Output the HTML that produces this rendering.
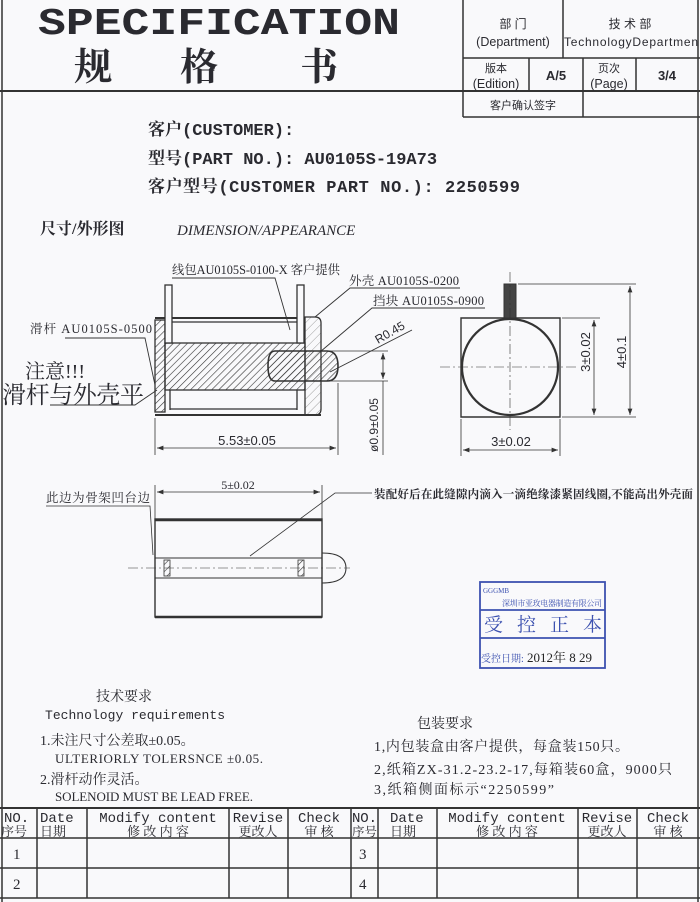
<!DOCTYPE html>
<html><head><meta charset="utf-8"><style>
html,body{margin:0;padding:0;background:#f9f9fb}
svg{display:block}
text{fill:#2a2a30}
.s{font-family:"Liberation Serif","Noto Serif CJK SC",serif}
.m{font-family:"Liberation Mono","Noto Serif CJK SC",monospace}
.a{font-family:"Liberation Sans","Noto Sans CJK SC",sans-serif}
</style></head><body>
<svg width="700" height="902" viewBox="0 0 700 902" xmlns="http://www.w3.org/2000/svg">
<defs>
<pattern id="h" width="5" height="5" patternUnits="userSpaceOnUse" patternTransform="rotate(45)"><line x1="0" y1="0" x2="0" y2="5" stroke="#333" stroke-width="1.2"/></pattern>
<pattern id="h2" width="6" height="6" patternUnits="userSpaceOnUse" patternTransform="rotate(45)"><line x1="0" y1="0" x2="0" y2="6" stroke="#888" stroke-width="0.8"/></pattern>
<marker id="ar" markerWidth="8" markerHeight="6" refX="8" refY="3" orient="auto"><path d="M0,0 L8,3 L0,6z" fill="#333"/></marker>
<marker id="al" markerWidth="8" markerHeight="6" refX="0" refY="3" orient="auto"><path d="M8,0 L0,3 L8,6z" fill="#333"/></marker>
</defs>
<g stroke="#333" fill="none" stroke-width="1.5">
<line x1="2" y1="0" x2="2" y2="902"/><line x1="698" y1="0" x2="698" y2="902"/>
<line x1="0" y1="91" x2="700" y2="91" stroke-width="2"/>
<line x1="463" y1="0" x2="463" y2="117"/>
<line x1="463" y1="58" x2="700" y2="58"/>
<line x1="463" y1="117" x2="700" y2="117"/>
<line x1="563" y1="0" x2="563" y2="58"/>
<line x1="529" y1="58" x2="529" y2="91"/><line x1="583" y1="58" x2="583" y2="117"/><line x1="636" y1="58" x2="636" y2="91"/>
</g>
<text class="m" x="38" y="34" font-size="38" font-weight="bold" textLength="362" lengthAdjust="spacingAndGlyphs">SPECIFICATION</text>
<text class="s" x="74" y="80" font-size="38" font-weight="bold">规</text>
<text class="s" x="180" y="80" font-size="38" font-weight="bold">格</text>
<text class="s" x="300" y="80" font-size="38" font-weight="bold">书</text>
<text class="a" x="513" y="28" font-size="12" text-anchor="middle">部  门</text>
<text class="a" x="513" y="46" font-size="12.5" text-anchor="middle">(Department)</text>
<text class="a" x="630" y="28" font-size="12" text-anchor="middle">技 术 部</text>
<text class="a" x="564" y="46" font-size="12" textLength="134">TechnologyDepartmen</text>
<text class="a" x="496" y="72" font-size="11" text-anchor="middle">版本</text>
<text class="a" x="496" y="88" font-size="12.5" text-anchor="middle">(Edition)</text>
<text class="a" x="556" y="80" font-size="13" font-weight="bold" text-anchor="middle">A/5</text>
<text class="a" x="609" y="72" font-size="11" text-anchor="middle">页次</text>
<text class="a" x="609" y="88" font-size="12.5" text-anchor="middle">(Page)</text>
<text class="a" x="667" y="80" font-size="13" font-weight="bold" text-anchor="middle">3/4</text>
<text class="a" x="523" y="109" font-size="11" text-anchor="middle">客户确认签字</text>

<text class="m" x="148" y="135" font-size="17" font-weight="bold">客户(CUSTOMER):</text>
<text class="m" x="148" y="164" font-size="17" font-weight="bold">型号(PART NO.): AU0105S-19A73</text>
<text class="m" x="148" y="192" font-size="17" font-weight="bold" textLength="372">客户型号(CUSTOMER PART NO.): 2250599</text>
<text class="s" x="40" y="234" font-size="16" font-weight="bold">尺寸/外形图</text>
<text class="s" x="177" y="235" font-size="15" font-style="italic">DIMENSION/APPEARANCE</text>

<g stroke="#333" stroke-width="1.3" fill="none">
<rect x="155" y="320" width="10" height="92" fill="url(#h)"/>
<rect x="165" y="343" width="140" height="47" fill="url(#h)"/>
<path d="M305,317 h10 q6,0 6,6 v86 q0,6 -6,6 h-10z" fill="url(#h2)"/>
<path d="M275,351 h52 q11,0 11,15 q0,15 -11,15 h-52 q-7,0 -7,-15 q0,-15 7,-15z" fill="url(#h)" stroke-width="1.6"/>
<line x1="155" y1="318" x2="305" y2="318" stroke-width="2"/>
<line x1="155" y1="415" x2="321" y2="415" stroke-width="2"/>
<line x1="170" y1="322" x2="297" y2="322"/>
<line x1="170" y1="409" x2="297" y2="409"/>
<rect x="165" y="285" width="7" height="58" fill="#f9f9fb"/>
<rect x="297" y="285" width="7" height="58" fill="#f9f9fb"/>
<line x1="170" y1="390" x2="170" y2="410"/><line x1="297" y1="390" x2="297" y2="410"/>
<line x1="155" y1="418" x2="155" y2="455" stroke-width="0.8"/>
<line x1="338" y1="383" x2="338" y2="455" stroke-width="0.8"/>
<line x1="157" y1="448" x2="336" y2="448" stroke-width="0.8" marker-start="url(#al)" marker-end="url(#ar)"/>
<line x1="320" y1="351" x2="388" y2="351" stroke-width="0.8"/>
<line x1="320" y1="381" x2="388" y2="381" stroke-width="0.8"/>
<line x1="383" y1="353" x2="383" y2="379" stroke-width="0.8" marker-start="url(#al)" marker-end="url(#ar)"/>
<line x1="383" y1="381" x2="383" y2="455" stroke-width="0.8"/>
<polyline points="172,278 275,278 290,330" stroke-width="0.9"/>
<polyline points="460,288 350,288 315,317" stroke-width="0.9"/>
<polyline points="485,308 372,308 320,352" stroke-width="0.9"/>
<line x1="412" y1="330" x2="330" y2="372" stroke-width="0.9"/>
<polyline points="65,338 145,338 155,385" stroke-width="0.9"/>
<polyline points="50,405 135,405 157,390" stroke-width="0.9"/>
</g>
<text class="s" x="172" y="274" font-size="12.5" textLength="168" lengthAdjust="spacingAndGlyphs">线包AU0105S-0100-X 客户提供</text>
<text class="s" x="349" y="285" font-size="12.5" textLength="110">外壳 AU0105S-0200</text>
<text class="s" x="373" y="305" font-size="12.5" textLength="111">挡块 AU0105S-0900</text>
<text class="a" x="378" y="344" font-size="12" transform="rotate(-30 378 344)">R0.45</text>
<text class="s" x="30" y="333" font-size="12.5" textLength="122">滑杆 AU0105S-0500</text>
<text class="s" x="25" y="378" font-size="20">注意!!!</text>
<text class="s" x="2" y="403" font-size="24" textLength="142">滑杆与外壳平</text>
<text class="a" x="247" y="445" font-size="13" text-anchor="middle">5.53±0.05</text>
<text class="a" x="378" y="425" font-size="12" text-anchor="middle" transform="rotate(-90 378 425)">ø0.9±0.05</text>

<g stroke="#333" fill="none">
<path d="M461,318 h99 v99 h-99z" stroke-width="1.4"/>
<circle cx="510" cy="367" r="48" stroke-width="2.2"/>
<rect x="504" y="284" width="12" height="34" fill="#444" stroke-width="1"/>
<line x1="440" y1="367" x2="578" y2="367" stroke-width="0.6" stroke-dasharray="10,3,2,3"/>
<line x1="510" y1="272" x2="510" y2="430" stroke-width="0.6" stroke-dasharray="10,3,2,3"/>
<g stroke-width="0.8">
<line x1="518" y1="284" x2="636" y2="284"/><line x1="562" y1="318" x2="600" y2="318"/><line x1="562" y1="417" x2="636" y2="417"/>
<line x1="594" y1="320" x2="594" y2="415" marker-start="url(#al)" marker-end="url(#ar)"/>
<line x1="630" y1="286" x2="630" y2="415" marker-start="url(#al)" marker-end="url(#ar)"/>
<line x1="461" y1="419" x2="461" y2="456"/><line x1="560" y1="419" x2="560" y2="456"/>
<line x1="463" y1="450" x2="558" y2="450" marker-start="url(#al)" marker-end="url(#ar)"/>
</g></g>
<text class="a" x="590" y="352" font-size="13" text-anchor="middle" transform="rotate(-90 590 352)">3±0.02</text>
<text class="a" x="626" y="352" font-size="13" text-anchor="middle" transform="rotate(-90 626 352)">4±0.1</text>
<text class="a" x="511" y="446" font-size="13" text-anchor="middle">3±0.02</text>

<g stroke="#333" fill="none">
<rect x="155" y="519" width="167" height="98" stroke-width="1.4"/>
<line x1="155" y1="520" x2="322" y2="520" stroke-width="2.5"/>
<line x1="155" y1="617" x2="322" y2="617" stroke-width="2.5"/>
<line x1="155" y1="558" x2="322" y2="558" stroke-width="1"/>
<line x1="155" y1="578" x2="322" y2="578" stroke-width="1"/>
<rect x="164" y="560" width="6" height="16" fill="url(#h)" stroke-width="0.8"/>
<rect x="298" y="560" width="6" height="16" fill="url(#h)" stroke-width="0.8"/>
<path d="M322,553 q24,0 24,15 q0,15 -24,15" stroke-width="1"/>
<line x1="128" y1="568" x2="350" y2="568" stroke-width="0.6" stroke-dasharray="10,3,2,3"/>
<g stroke-width="0.8">
<line x1="155" y1="485" x2="155" y2="519"/><line x1="322" y1="485" x2="322" y2="519"/>
<line x1="157" y1="492" x2="320" y2="492" marker-start="url(#al)" marker-end="url(#ar)"/>
<polyline points="46,506 150,506 153,555"/>
<polyline points="372,493 335,493 250,556"/>
</g></g>
<text class="s" x="238" y="489" font-size="12" text-anchor="middle">5±0.02</text>
<text class="s" x="46" y="502" font-size="12.5" textLength="104">此边为骨架凹台边</text>
<text class="s" x="374" y="498" font-size="11.5" font-weight="bold" textLength="319">装配好后在此缝隙内滴入一滴绝缘漆紧固线圈,不能高出外壳面</text>

<g stroke="#3d52b0" fill="none" stroke-width="1.8">
<rect x="480" y="582" width="125" height="86"/>
<line x1="480" y1="610" x2="605" y2="610"/><line x1="480" y1="638" x2="605" y2="638"/>
</g>
<text class="s" x="483" y="593" font-size="7" style="fill:#3d52b0">GGGMB</text>
<text class="s" x="502" y="606" font-size="8" style="fill:#3d52b0" textLength="100">深圳市亚玫电器制造有限公司</text>
<text class="s" x="484" y="631" font-size="19" style="fill:#3d52b0" textLength="118">受 控 正 本</text>
<text class="s" x="481" y="662" font-size="10" style="fill:#3d52b0">受控日期:</text>
<text class="s" x="527" y="662" font-size="13" style="fill:#222">2012年 8 29</text>

<text class="s" x="96" y="701" font-size="14">技术要求</text>
<text class="m" x="45" y="719" font-size="13" textLength="180">Technology  requirements</text>
<text class="s" x="40" y="745" font-size="14">1.未注尺寸公差取±0.05。</text>
<text class="s" x="55" y="763" font-size="13" textLength="208">ULTERIORLY TOLERSNCE ±0.05.</text>
<text class="s" x="40" y="784" font-size="14">2.滑杆动作灵活。</text>
<text class="s" x="55" y="801" font-size="13" textLength="198">SOLENOID MUST BE LEAD FREE.</text>
<text class="s" x="417" y="728" font-size="14">包装要求</text>
<text class="s" x="374" y="751" font-size="14" textLength="255">1,内包装盒由客户提供，每盒装150只。</text>
<text class="s" x="374" y="774" font-size="14" textLength="298">2,纸箱ZX-31.2-23.2-17,每箱装60盒，9000只</text>
<text class="s" x="374" y="794" font-size="14" textLength="180">3,纸箱侧面标示“2250599”</text>

<g stroke="#333" stroke-width="1.5" fill="none">
<line x1="0" y1="808" x2="700" y2="808" stroke-width="2"/>
<line x1="0" y1="838" x2="700" y2="838"/>
<line x1="0" y1="868" x2="700" y2="868"/>
<line x1="0" y1="898" x2="700" y2="898"/>
<line x1="37" y1="808" x2="37" y2="898"/><line x1="87" y1="808" x2="87" y2="898"/>
<line x1="229" y1="808" x2="229" y2="898"/><line x1="288" y1="808" x2="288" y2="898"/>
<line x1="351" y1="808" x2="351" y2="898"/><line x1="378" y1="808" x2="378" y2="898"/>
<line x1="437" y1="808" x2="437" y2="898"/><line x1="578" y1="808" x2="578" y2="898"/>
<line x1="637" y1="808" x2="637" y2="898"/>
</g>
<g>
<text class="m" x="4" y="822" font-size="14">NO.</text><text class="s" x="1" y="836" font-size="13">序号</text>
<text class="m" x="40" y="822" font-size="14">Date</text><text class="s" x="40" y="836" font-size="13">日期</text>
<text class="m" x="158" y="822" font-size="14" text-anchor="middle">Modify content</text><text class="s" x="158" y="836" font-size="13" text-anchor="middle">修 改 内 容</text>
<text class="m" x="258" y="822" font-size="14" text-anchor="middle">Revise</text><text class="s" x="258" y="836" font-size="13" text-anchor="middle">更改人</text>
<text class="m" x="319" y="822" font-size="14" text-anchor="middle">Check</text><text class="s" x="319" y="836" font-size="13" text-anchor="middle">审  核</text>
<text class="m" x="352" y="822" font-size="14" textLength="25">NO.</text><text class="s" x="352" y="836" font-size="12.5">序号</text>
<text class="m" x="390" y="822" font-size="14">Date</text><text class="s" x="390" y="836" font-size="13">日期</text>
<text class="m" x="507" y="822" font-size="14" text-anchor="middle">Modify content</text><text class="s" x="507" y="836" font-size="13" text-anchor="middle">修 改 内 容</text>
<text class="m" x="607" y="822" font-size="14" text-anchor="middle">Revise</text><text class="s" x="607" y="836" font-size="13" text-anchor="middle">更改人</text>
<text class="m" x="668" y="822" font-size="14" text-anchor="middle">Check</text><text class="s" x="668" y="836" font-size="13" text-anchor="middle">审  核</text>
<text class="s" x="13" y="859" font-size="15">1</text>
<text class="s" x="13" y="889" font-size="15">2</text>
<text class="s" x="359" y="859" font-size="15">3</text>
<text class="s" x="359" y="889" font-size="15">4</text>
</g>
</svg>
</body></html>
